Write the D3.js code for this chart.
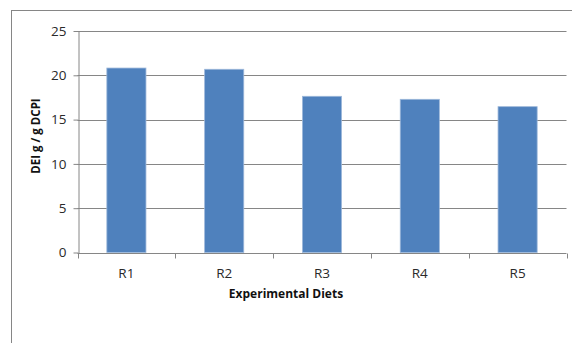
<!DOCTYPE html>
<html><head><meta charset="utf-8">
<script src="https://cdn.jsdelivr.net/npm/d3@7"></script>
<style>body{margin:0;background:#fff;}svg{display:block;}</style>
</head><body>
<script>
const categories = ["R1","R2","R3","R4","R5"];
const values = [20.82, 20.68, 17.63, 17.29, 16.46];
const yTicks = [0,5,10,15,20,25];
const xTitle = "Experimental Diets";
const yTitle = "DEI g / g DCPI";

(function(){
const W = 572, H = 343;
const svg = d3.select("body").append("svg").attr("width", W).attr("height", H);
const font = "'Open Sans', 'Liberation Sans', sans-serif";

// outer chart border
svg.append("rect").attr("x", 11.5).attr("y", 10.5).attr("width", 600).attr("height", 400)
  .attr("fill", "none").attr("stroke", "#868686").attr("stroke-width", 1);

const pL = 77.5, pR = 566.5, pT = 31, pB = 252.5;
const x = d3.scaleBand().domain(categories).range([pL, pR]).paddingInner(0.6).paddingOuter(0.3);
const y = d3.scaleLinear().domain([0, 25]).range([pB, pT]);

// gridlines
svg.append("g").selectAll("line").data(yTicks.filter(d => d > 0)).join("line")
  .attr("x1", pL).attr("x2", pR)
  .attr("y1", d => Math.round(y(d)) + 0.5).attr("y2", d => Math.round(y(d)) + 0.5)
  .attr("stroke", "#868686").attr("stroke-width", 1);

// bars
svg.append("g").selectAll("rect").data(values).join("rect")
  .attr("x", (d, i) => x(categories[i]))
  .attr("width", x.bandwidth())
  .attr("y", d => y(d))
  .attr("height", d => pB - y(d))
  .attr("fill", "#4F81BD")
  .attr("stroke", "#9DB8DA").attr("stroke-width", 0.8);

// y axis
const yAxis = svg.append("g").attr("transform", `translate(${Math.round(pL)+0.5},0)`)
  .call(d3.axisLeft(y).tickValues(yTicks).tickSize(5).tickSizeOuter(0).tickPadding(7).tickFormat(d3.format("d")));
yAxis.select(".domain").attr("stroke", "#868686");
yAxis.selectAll(".tick line").attr("stroke", "#868686");
yAxis.selectAll("text").attr("font-family", font).attr("font-size", 13.5).attr("fill", "#2a2a2a");

// x axis with boundary ticks
const xg = svg.append("g").attr("transform", `translate(0,${Math.round(pB)+0.5})`);
xg.append("line").attr("x1", pL).attr("x2", pR).attr("stroke", "#868686");
const bounds = d3.range(categories.length + 1).map(i => pL + i * (pR - pL) / categories.length);
xg.selectAll("line.tk").data(bounds).join("line").attr("class", "tk")
  .attr("x1", d => Math.round(d) + 0.5).attr("x2", d => Math.round(d) + 0.5)
  .attr("y1", 0).attr("y2", 5).attr("stroke", "#868686");
xg.selectAll("text").data(categories).join("text")
  .attr("x", d => x(d) + x.bandwidth() / 2).attr("y", 24)
  .attr("text-anchor", "middle").attr("font-family", font).attr("font-size", 13.5).attr("fill", "#2a2a2a")
  .text(d => d);

// axis titles
svg.append("text").attr("x", 286).attr("y", 297.5).attr("text-anchor", "middle")
  .attr("font-family", font).attr("font-size", 12).attr("font-weight", "bold").attr("fill", "#111")
  .text(xTitle);
svg.append("text").attr("transform", "translate(39.5,136) rotate(-90)").attr("text-anchor", "middle")
  .attr("font-family", font).attr("font-size", 11.5).attr("font-weight", "bold").attr("fill", "#111")
  .text(yTitle);
})();
</script>
</body></html>
